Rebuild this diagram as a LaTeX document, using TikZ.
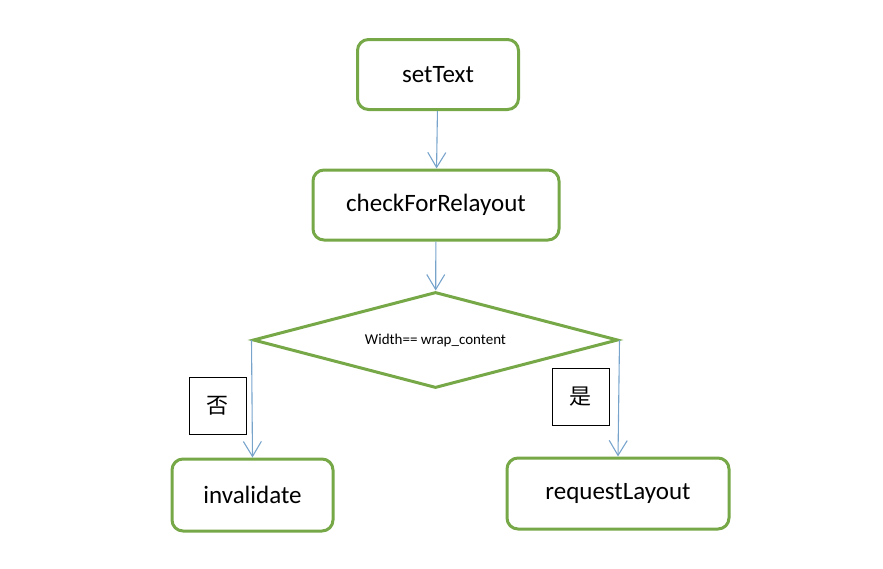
\documentclass[tikz,border=0pt]{standalone}
\usepackage{fontspec}
\setmainfont{Carlito}
\newfontfamily\cjk{Noto Sans CJK SC}
\usetikzlibrary{shapes.geometric,arrows.meta}
\definecolor{boxgreen}{RGB}{118,168,72}
\definecolor{lineblue}{RGB}{120,164,204}
\tikzset{
  stepbox/.style={draw=boxgreen,line width=3pt,rounded corners=11pt,fill=white,font=\fontsize{25}{27}\selectfont},
  testbox/.style={diamond,draw=boxgreen,line width=3pt,inner sep=0pt,shape aspect=3.8,font=\fontsize{15}{17}\selectfont},
  tagbox/.style={draw,line width=1pt,minimum width=57pt,minimum height=57pt,inner sep=0pt,font=\cjk\fontsize{22}{24}\selectfont},
  flow/.style={draw=lineblue,line width=1.1pt,-{Straight Barb[length=15pt,width=18pt,line width=1.1pt]}}
}
\begin{document}
\begin{tikzpicture}[x=1pt,y=-1pt]
	\useasboundingbox (0,0) rectangle (883,568);
	\node[stepbox,minimum width=161pt,minimum height=70pt](settext) at (438,74.5){setText};
	\node[stepbox,minimum width=246pt,minimum height=70pt](check) at (436,205){checkForRelayout};
	\node[testbox,minimum width=365pt,minimum height=96pt](cond) at (435.5,340){Width== wrap\_content};
	\node[stepbox,minimum width=161pt,minimum height=72pt](inval) at (252.5,495){invalidate};
	\node[stepbox,minimum width=222pt,minimum height=71pt](request) at (618,493.5){requestLayout};
	\node[tagbox](no) at (217.5,405.5){否};
	\node[tagbox](yes) at (580.5,396.5){是};
	\draw[flow](settext)--(check);
	\draw[flow](check)--(cond);
	\draw[flow](cond.west)--(inval.north);
	\draw[flow](cond.east)--(request.north);
\end{tikzpicture}
\end{document}
